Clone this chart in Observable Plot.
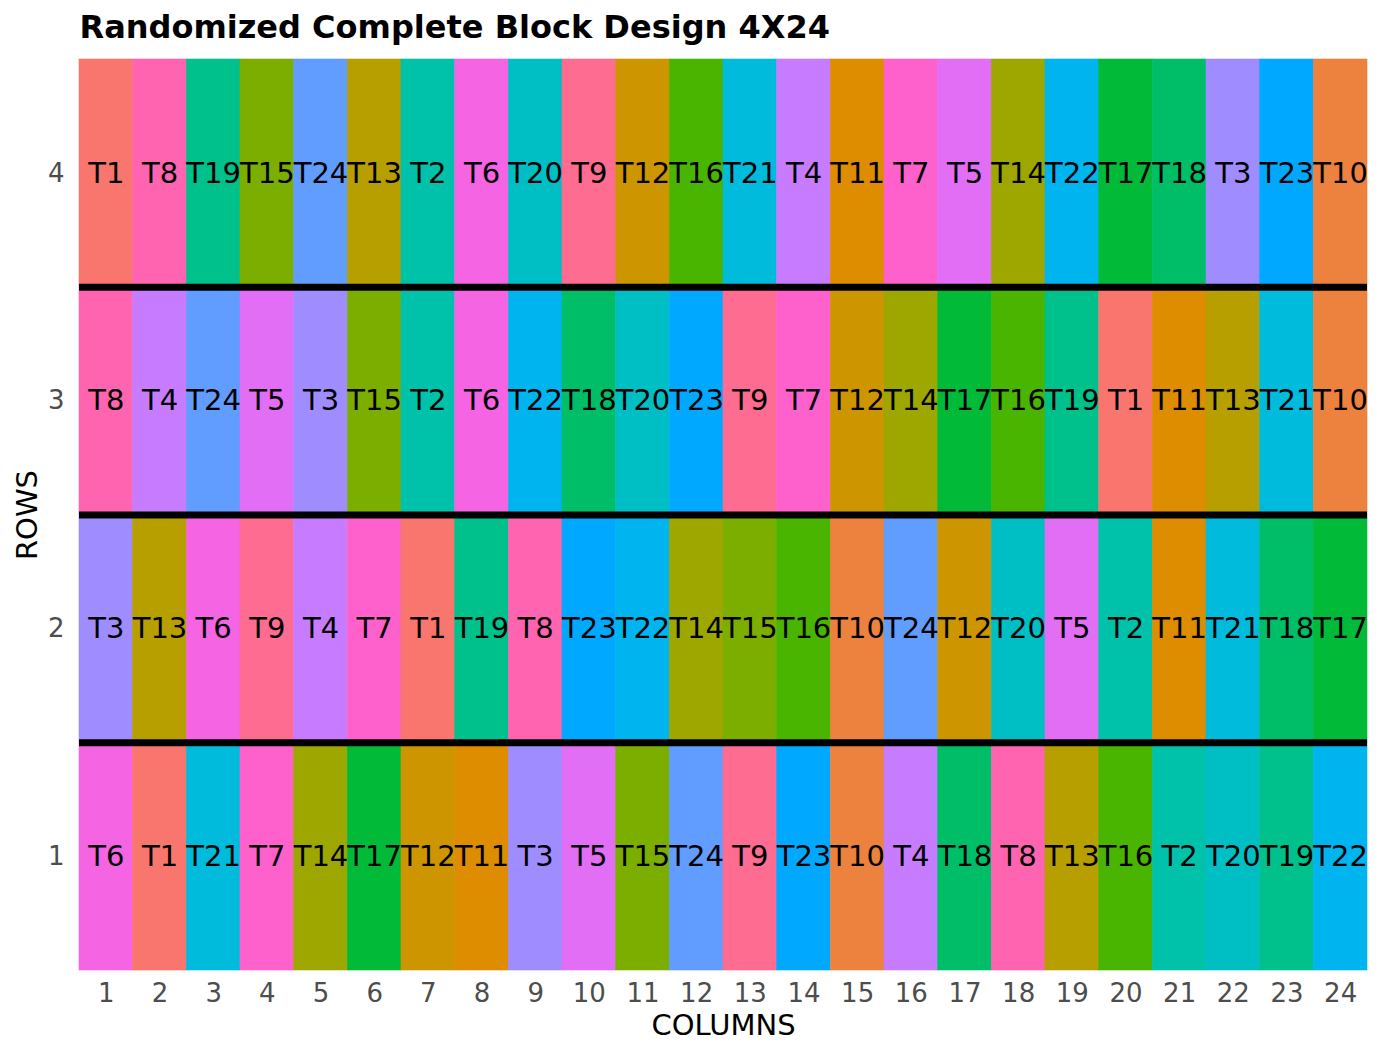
<!DOCTYPE html>
<html>
<head>
<meta charset="utf-8">
<script src="https://cdn.jsdelivr.net/npm/d3@7"></script>
<script src="https://cdn.jsdelivr.net/npm/@observablehq/plot@0.6"></script>
<style>
  html, body { margin: 0; padding: 0; background: #fff; }
  svg { display: block; }
</style>
</head>
<body>
<div id="chart"></div>
<script>
const titleText = "Randomized Complete Block Design 4X24";
const xTitle = "COLUMNS";
const yTitle = "ROWS";
const columns = d3.range(1, 25);
const rows = [1, 2, 3, 4];
const blockBoundaries = [1.5, 2.5, 3.5];

const row1 = ["T6","T1","T21","T7","T14","T17","T12","T11","T3","T5","T15","T24","T9","T23","T10","T4","T18","T8","T13","T16","T2","T20","T19","T22"];
const row2 = ["T3","T13","T6","T9","T4","T7","T1","T19","T8","T23","T22","T14","T15","T16","T10","T24","T12","T20","T5","T2","T11","T21","T18","T17"];
const row3 = ["T8","T4","T24","T5","T3","T15","T2","T6","T22","T18","T20","T23","T9","T7","T12","T14","T17","T16","T19","T1","T11","T13","T21","T10"];
const row4 = ["T1","T8","T19","T15","T24","T13","T2","T6","T20","T9","T12","T16","T21","T4","T11","T7","T5","T14","T22","T17","T18","T3","T23","T10"];

// factor levels in alphabetical (R default) order
const treatments = ["T1","T10","T11","T12","T13","T14","T15","T16","T17","T18","T19","T2","T20","T21","T22","T23","T24","T3","T4","T5","T6","T7","T8","T9"];

// ggplot2 default hue palette (polar LUV, c=100, l=65)
function hcl2hex(h, c, l) {
  const Xn = 95.047, Yn = 100, Zn = 108.883;
  const un = 4 * Xn / (Xn + 15 * Yn + 3 * Zn), vn = 9 * Yn / (Xn + 15 * Yn + 3 * Zn);
  const hr = h * Math.PI / 180;
  const U = c * Math.cos(hr), V = c * Math.sin(hr);
  const Y = Yn * (l > 7.999592 ? Math.pow((l + 16) / 116, 3) : l / 903.3);
  const u = U / (13 * l) + un, v = V / (13 * l) + vn;
  const X = 9.0 * Y * u / (4 * v);
  const Z = -X / 3 - 5 * Y + 3 * Y / v;
  const x = X / 100, y = Y / 100, z = Z / 100;
  const g = t => { t = t <= 0.0031308 ? 12.92 * t : 1.055 * Math.pow(t, 1 / 2.4) - 0.055; return Math.max(0, Math.min(1, t)); };
  const R = g(3.240479 * x - 1.537150 * y - 0.498535 * z);
  const G = g(-0.969256 * x + 1.875992 * y + 0.041556 * z);
  const B = g(0.055648 * x - 0.204043 * y + 1.057311 * z);
  return d3.rgb(R * 255, G * 255, B * 255).formatHex();
}
const palette = treatments.map((_, i) => hcl2hex(15 + 360 * i / treatments.length, 100, 65));

const grid = [row1, row2, row3, row4];
const cells = [];
grid.forEach((r, ri) => r.forEach((t, ci) => cells.push({row: rows[ri], col: columns[ci], trt: t})));

const font = "DejaVu Sans";

const chart = Plot.plot({
  width: 1382,
  height: 1056,
  marginLeft: 79,
  marginRight: 15,
  marginTop: 59,
  marginBottom: 86,
  style: {fontFamily: font, background: "#fff"},
  x: {domain: [0.5, 24.5], ticks: columns, label: null},
  y: {domain: [0.5, 4.5], ticks: rows, label: null},
  color: {type: "ordinal", domain: treatments, range: palette},
  marks: [
    Plot.rect(cells, {x1: d => d.col - 0.5, x2: d => d.col + 0.5, y1: d => d.row - 0.5, y2: d => d.row + 0.5, fill: "trt", stroke: "trt", strokeWidth: 0.6}),
    Plot.text(cells, {x: "col", y: "row", text: "trt", fill: "black", fontSize: 29, fontFamily: font}),
    Plot.ruleY(blockBoundaries, {stroke: "black", strokeWidth: 7}),
    Plot.axisX(columns, {tickSize: 0, tickPadding: 13, fontSize: 26, fill: "#4D4D4D", label: null, tickFormat: "d"}),
    Plot.axisY(rows, {tickSize: 0, tickPadding: 15, fontSize: 26, fill: "#4D4D4D", label: null, tickFormat: "d"}),
    Plot.text([xTitle], {frameAnchor: "bottom", dy: 55, fontSize: 29, fill: "black", lineAnchor: "middle", textAnchor: "middle"}),
    Plot.text([yTitle], {frameAnchor: "left", dx: -52, rotate: -90, fontSize: 29, fill: "black", lineAnchor: "middle", textAnchor: "middle"}),
    Plot.text([titleText], {frameAnchor: "top-left", dy: -32, textAnchor: "start", fontSize: 32, fontWeight: "bold", fill: "black", lineAnchor: "middle"})
  ]
});
document.getElementById("chart").appendChild(chart);
</script>
</body>
</html>
